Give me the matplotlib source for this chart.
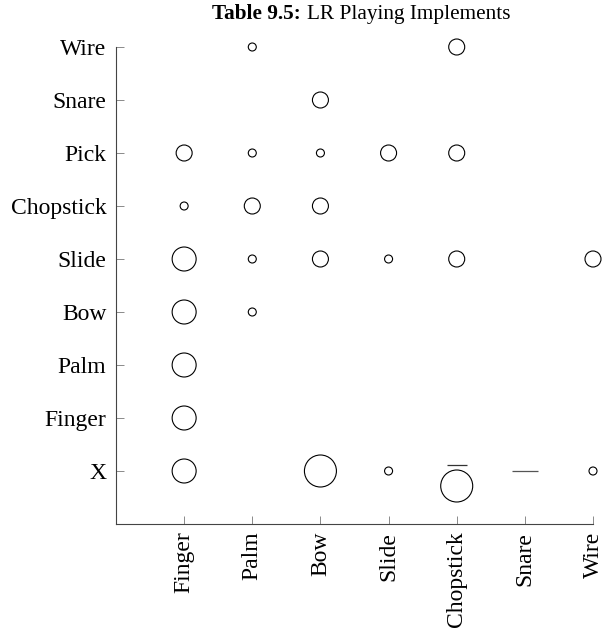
import matplotlib
matplotlib.use("Agg")
import matplotlib.pyplot as plt
from matplotlib.transforms import ScaledTranslation

# ---- data ----
col_labels = ['Finger', 'Palm', 'Bow', 'Slide', 'Chopstick', 'Snare', 'Wire']
row_labels = ['X', 'Finger', 'Palm', 'Bow', 'Slide', 'Chopstick', 'Pick', 'Snare', 'Wire']

pt_col = ['Palm', 'Chopstick',
          'Bow',
          'Finger', 'Palm', 'Bow', 'Slide', 'Chopstick',
          'Finger', 'Palm', 'Bow',
          'Finger', 'Palm', 'Bow', 'Slide', 'Chopstick', 'Wire',
          'Finger', 'Palm',
          'Finger',
          'Finger',
          'Finger', 'Bow', 'Slide', 'Wire']
pt_row = ['Wire', 'Wire',
          'Snare',
          'Pick', 'Pick', 'Pick', 'Pick', 'Pick',
          'Chopstick', 'Chopstick', 'Chopstick',
          'Slide', 'Slide', 'Slide', 'Slide', 'Slide', 'Slide',
          'Bow', 'Bow',
          'Palm',
          'Finger',
          'X', 'X', 'X', 'X']
pt_size = [1, 2,
           2,
           2, 1, 1, 2, 2,
           1, 2, 2,
           3, 1, 2, 1, 2, 2,
           3, 1,
           3,
           3,
           3, 4, 1, 1]

# displaced mark in row X / column Chopstick (circle drawn below its row, dash above)
odd_col = ['Chopstick']
odd_row = ['X']
odd_size = [4]
dash_col = ['Chopstick', 'Snare']
dash_row = ['X', 'X']

# ---- figure ----
W, H = 603, 632
fig = plt.figure(figsize=(W / 100, H / 100), dpi=100)
plt.rcParams['font.family'] = ['Liberation Serif', 'DejaVu Serif']
ax = fig.add_axes([116 / W, 1 - 524 / H, (593 - 116) / W, (524 - 47) / H])

xi = {c: i for i, c in enumerate(col_labels)}
yi = {r: i for i, r in enumerate(row_labels)}

px = 0.72  # points per pixel


def msize(v):
    return (8 * v * px) ** 2


ax.scatter([xi[c] for c in pt_col], [yi[r] for r in pt_row],
           s=[msize(v) for v in pt_size], facecolors='none', edgecolors='black',
           linewidths=0.8, clip_on=False, zorder=3)

shift_down = ax.transData + ScaledTranslation(0, -15 / 100, fig.dpi_scale_trans)
ax.scatter([xi[c] for c in odd_col], [yi[r] for r in odd_row],
           s=[msize(v) for v in odd_size], facecolors='none', edgecolors='black',
           linewidths=0.8, clip_on=False, zorder=3, transform=shift_down)

shift_up = ax.transData + ScaledTranslation(0, 6 / 100, fig.dpi_scale_trans)
ax.plot([xi[dash_col[0]]], [yi[dash_row[0]]], marker='_', markersize=20 * px,
        markeredgewidth=0.9, color='#333333', linestyle='none', transform=shift_up,
        clip_on=False)
ax.plot([xi[dash_col[1]]], [yi[dash_row[1]]], marker='_', markersize=27 * px,
        markeredgewidth=0.9, color='#555555', linestyle='none', clip_on=False)

ax.set_xlim(-1, len(col_labels) - 1)
ax.set_ylim(-1, len(row_labels) - 1)
ax.set_xticks(range(len(col_labels)))
ax.set_xticklabels(col_labels, rotation=90, fontsize=17)
ax.set_yticks(range(len(row_labels)))
ax.set_yticklabels(row_labels, fontsize=17)

for s in ['top', 'right']:
    ax.spines[s].set_visible(False)
for s in ['left', 'bottom']:
    ax.spines[s].set_color('#444444')
    ax.spines[s].set_linewidth(0.8)
ax.tick_params(axis='both', direction='in', length=5.5, width=0.6, color='#777777')
ax.tick_params(axis='y', pad=7)
ax.tick_params(axis='x', pad=5.5)

# title
fig.text(301 / W, 1 - 19 / H, 'Table 9.5:', fontweight='bold', fontsize=15.3,
         ha='right', va='baseline')
fig.text(307 / W, 1 - 19 / H, 'LR Playing Implements', fontsize=15.3,
         ha='left', va='baseline')

fig.savefig('out.png', dpi=100)
